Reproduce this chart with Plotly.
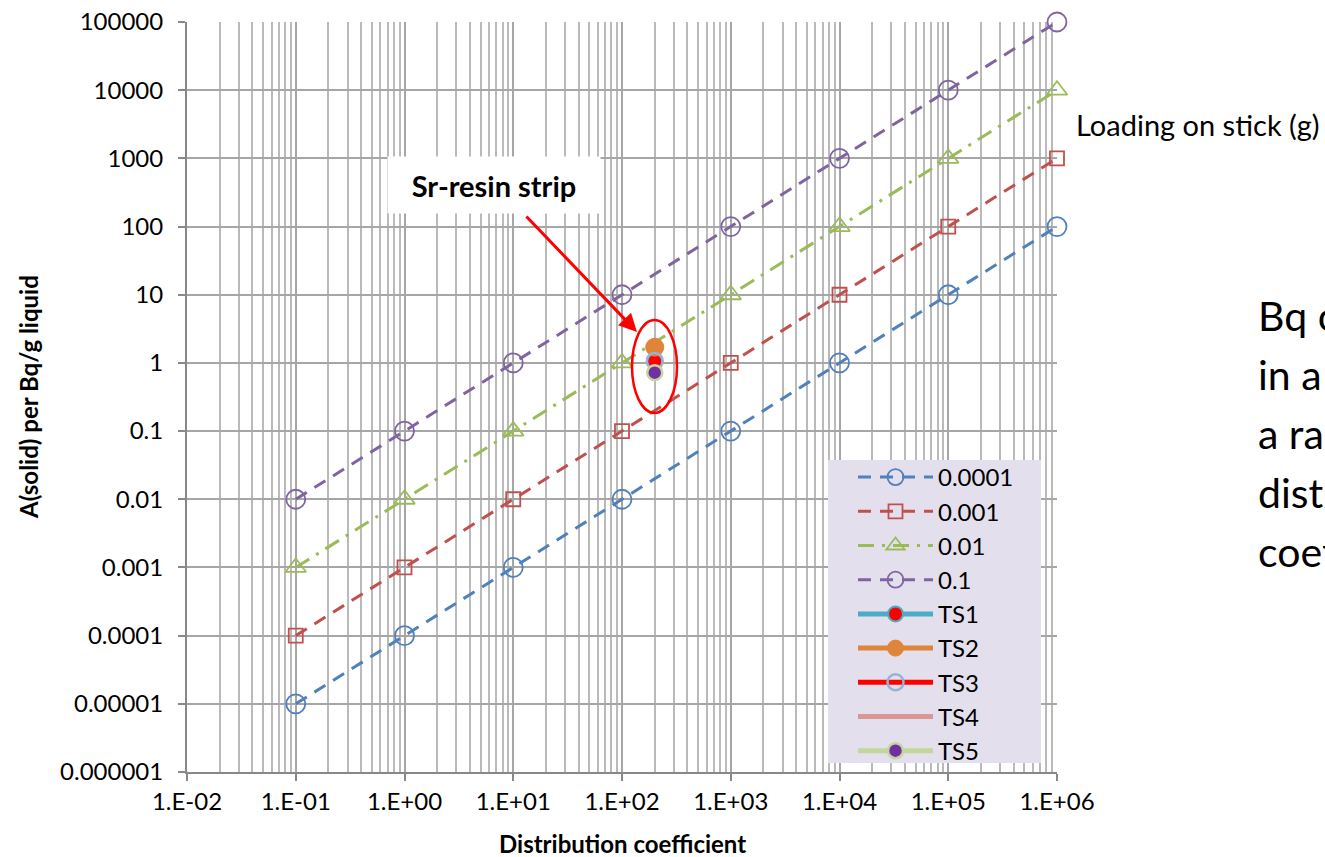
import plotly.graph_objects as go

# Distribution coefficients (Kd) on the x axis
kd = [0.1, 1, 10, 100, 1000, 10000, 100000, 1000000]

# Activity on solid per Bq/g liquid for each stick loading (g)
load_labels = ["0.0001", "0.001", "0.01", "0.1"]
a_0001 = [0.00001, 0.0001, 0.001, 0.01, 0.1, 1, 10, 100]
a_001 = [0.0001, 0.001, 0.01, 0.1, 1, 10, 100, 1000]
a_01 = [0.001, 0.01, 0.1, 1, 10, 100, 1000, 10000]
a_1 = [0.01, 0.1, 1, 10, 100, 1000, 10000, 100000]

# Measured test strips
ts_names = ["TS1", "TS2", "TS3", "TS4", "TS5"]
ts_kd = [200, 200, 200, 200, 200]
ts_a = [1.05, 1.7, 1.07, 1.0, 0.72]

x_tickvals = [0.01, 0.1, 1, 10, 100, 1000, 10000, 100000, 1000000]
x_ticktext = ["1.E-02", "1.E-01", "1.E+00", "1.E+01", "1.E+02", "1.E+03",
              "1.E+04", "1.E+05", "1.E+06"]
y_tickvals = [1e-6, 1e-5, 1e-4, 1e-3, 1e-2, 1e-1, 1, 10, 100, 1000, 10000, 100000]
y_ticktext = ["0.000001", "0.00001", "0.0001", "0.001", "0.01", "0.1", "1",
              "10", "100", "1000", "10000", "100000"]

FONT = "Lato, 'Open Sans', sans-serif"

fig = go.Figure()

load_series = [a_0001, a_001, a_01, a_1]
load_colors = ["#4f81bd", "#c0504d", "#9bbb59", "#8064a2"]
load_symbols = ["circle-open", "square-open", "triangle-up-open", "circle-open"]
load_sizes = [19, 14, 18, 19]
load_dash = ["13px,9px", "13px,9px", "16px,8px,3px,8px", "13px,9px"]

for name, ys, col, sym, sz, dsh in zip(load_labels, load_series, load_colors,
                                       load_symbols, load_sizes, load_dash):
    fig.add_trace(go.Scatter(
        x=kd, y=ys, name=name, mode="lines+markers", cliponaxis=False,
        line=dict(color=col, width=3, dash=dsh),
        marker=dict(symbol=sym, size=sz, color=col, line=dict(color=col, width=1.8)),
    ))

ts_line_colors = ["#4bacc6", "#e0843a", "#ff0000", "#d99694", "#c3d69b"]
ts_marker = [
    dict(symbol="circle", size=15, color="#ff0000", line=dict(color="#4bacc6", width=2)),
    dict(symbol="circle", size=18, color="#e0843a", line=dict(color="#e0843a", width=1)),
    dict(symbol="circle-open", size=16, color="#95b3d7", line=dict(color="#95b3d7", width=2.5)),
    None,
    dict(symbol="circle", size=15, color="#7030a0", line=dict(color="#c3d69b", width=2.5)),
]
for i, name in enumerate(ts_names):
    kw = dict(x=[ts_kd[i]], y=[ts_a[i]], name=name,
              line=dict(color=ts_line_colors[i], width=5))
    if ts_marker[i] is None:
        kw["mode"] = "lines"
    else:
        kw["mode"] = "lines+markers"
        kw["marker"] = ts_marker[i]
    fig.add_trace(go.Scatter(**kw))

# Plot-area geometry in pixels
W, H = 1325, 857
L, R, T, B = 187, 1057, 22, 772


def px(xp):
    return (xp - L) / (R - L)


def py(yp):
    return (B - yp) / (B - T)


grid_major = "#a6a6a6"
grid_minor = "#bababa"

fig.update_xaxes(
    type="log", range=[-2, 6], automargin=False,
    tickmode="array", tickvals=x_tickvals, ticktext=x_ticktext,
    tickfont=dict(family=FONT, size=24, color="#000"),
    ticks="outside", ticklen=7, tickwidth=2, tickcolor="#888888",
    showline=True, linecolor="#888888", linewidth=2,
    showgrid=True, gridcolor=grid_major, gridwidth=2,
    minor=dict(dtick="D1", showgrid=True, gridcolor=grid_minor, gridwidth=1.5, ticks=""),
    zeroline=False,
)
fig.update_yaxes(
    type="log", range=[-6, 5], automargin=False,
    tickmode="array", tickvals=y_tickvals, ticktext=y_ticktext,
    tickfont=dict(family=FONT, size=24, color="#000"),
    ticks="outside", ticklen=7, tickwidth=2, tickcolor="#888888",
    ticklabelstandoff=10,
    showline=True, linecolor="#888888", linewidth=2,
    showgrid=True, gridcolor=grid_major, gridwidth=2,
    zeroline=False,
)

annotations = [
    dict(text="<b>Distribution coefficient</b>", xref="paper", yref="paper",
         x=0.5, y=py(843), xanchor="center", yanchor="middle", showarrow=False,
         font=dict(family=FONT, size=24, color="#000")),
    dict(text="<b>A(solid) per Bq/g liquid</b>", xref="paper", yref="paper",
         x=px(28), y=0.5, xanchor="center", yanchor="middle", showarrow=False,
         textangle=-90, font=dict(family=FONT, size=24, color="#000")),
    dict(text="Loading on stick (g)", xref="paper", yref="paper",
         x=px(1074), y=py(124), xanchor="left", yanchor="middle", showarrow=False,
         font=dict(family=FONT, size=29, color="#000")),
    dict(text="<b>Sr-resin strip</b>", xref="paper", yref="paper",
         x=px(494), y=py(185), xanchor="center", yanchor="middle", showarrow=False,
         bgcolor="#ffffff", borderpad=0, width=212, height=56,
         font=dict(family=FONT, size=29, color="#000")),
    dict(text="", xref="paper", yref="paper", x=px(637), y=py(332),
         axref="pixel", ayref="pixel", ax=525 - 637, ay=215 - 332,
         showarrow=True, arrowhead=2, arrowsize=1.2, arrowwidth=3,
         arrowcolor="#ff0000"),
]

side_lines = ["Bq on stick", "in a solution", "a range of", "distribution", "coefficients"]
for i, t in enumerate(side_lines):
    annotations.append(dict(
        text=t, xref="paper", yref="paper", x=px(1256), y=py(315 + 59 * i),
        xanchor="left", yanchor="middle", showarrow=False,
        font=dict(family=FONT, size=41, color="#000")))

fig.update_layout(
    width=W, height=H,
    margin=dict(l=L, r=W - R, t=T, b=H - B, pad=0, autoexpand=False),
    paper_bgcolor="#ffffff", plot_bgcolor="#ffffff",
    font=dict(family=FONT, color="#000"),
    showlegend=True,
    legend=dict(
        x=px(853), y=py(455), xanchor="left", yanchor="top",
        bgcolor="rgba(0,0,0,0)", borderwidth=0,
        font=dict(family=FONT, size=24, color="#000"),
        itemwidth=75, tracegroupgap=0,
    ),
    annotations=annotations,
    shapes=[
        # legend panel
        dict(type="rect", xref="paper", yref="paper", layer="above",
             x0=px(828), x1=px(1041), y0=py(763), y1=py(460),
             fillcolor="#e4dfec", line=dict(width=0)),
        dict(type="circle", xref="paper", yref="paper",
             x0=px(632), x1=px(677), y0=py(413), y1=py(320),
             line=dict(color="#ff0000", width=2.5)),
    ],
)

fig.write_html("out.html")
